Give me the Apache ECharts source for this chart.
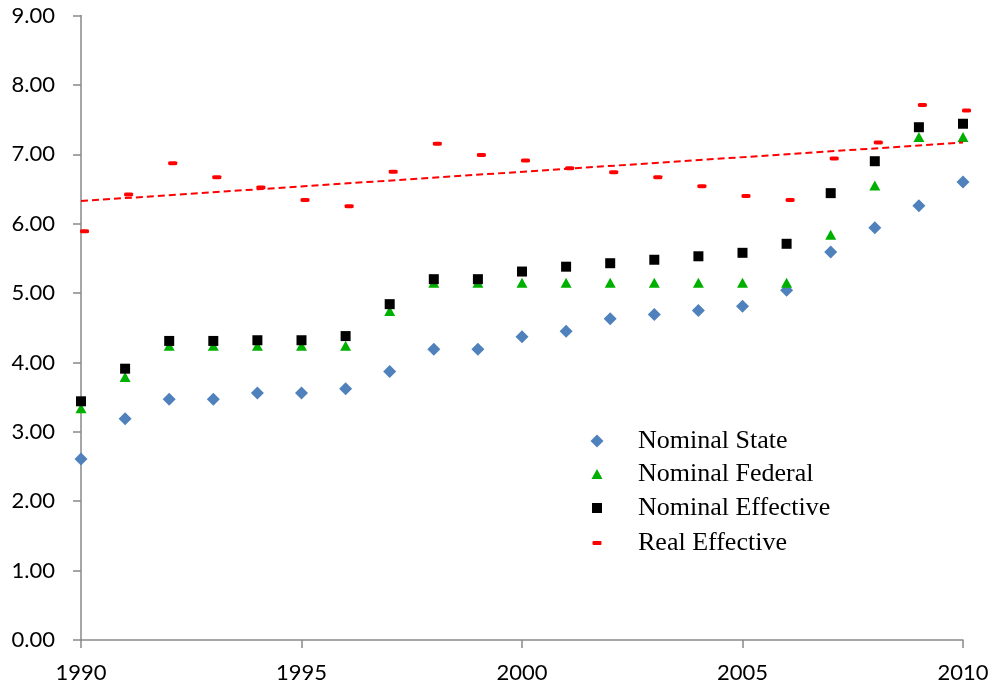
<!DOCTYPE html>
<html>
<head>
<meta charset="utf-8">
<script src="https://cdn.jsdelivr.net/npm/echarts@6/dist/echarts.min.js"></script>
<style>
html,body{margin:0;padding:0;background:#fff;}
#chart{width:995px;height:691px;}
</style>
</head>
<body>
<div id="chart"></div>
<script>
const years = [1990,1991,1992,1993,1994,1995,1996,1997,1998,1999,2000,2001,2002,2003,2004,2005,2006,2007,2008,2009,2010];
const nominalState = [2.61,3.19,3.47,3.47,3.56,3.56,3.62,3.87,4.19,4.19,4.37,4.45,4.63,4.69,4.75,4.81,5.04,5.59,5.94,6.26,6.60];
const nominalFederal = [3.34,3.79,4.24,4.24,4.24,4.24,4.24,4.74,5.15,5.15,5.15,5.15,5.15,5.15,5.15,5.15,5.15,5.84,6.55,7.25,7.25];
const nominalEffective = [3.44,3.91,4.31,4.31,4.32,4.32,4.38,4.84,5.20,5.20,5.31,5.38,5.43,5.48,5.53,5.58,5.71,6.44,6.90,7.39,7.44];
const realEffective = [5.89,6.42,6.87,6.67,6.52,6.34,6.25,6.75,7.15,6.99,6.91,6.80,6.74,6.67,6.54,6.40,6.34,6.94,7.17,7.71,7.63];
const seriesNames = ['Nominal State','Nominal Federal','Nominal Effective','Real Effective'];

// linear trend of Real Effective (least squares)
const n = years.length;
const mx = years.reduce((a,b)=>a+b,0)/n;
const my = realEffective.reduce((a,b)=>a+b,0)/n;
let sxy=0, sxx=0;
for (let i=0;i<n;i++){ sxy += (years[i]-mx)*(realEffective[i]-my); sxx += (years[i]-mx)*(years[i]-mx); }
const slope = sxy/sxx;
const trend = [years[0], years[n-1]].map(x => [x, my + slope*(x-mx)]);

const pair = arr => years.map((y,i)=>[y, arr[i]]);

const legendRows = [
  {name: seriesNames[0], w: 13, h: 13, cy: 441},
  {name: seriesNames[1], w: 11, h: 10, cy: 474},
  {name: seriesNames[2], w: 10, h: 10, cy: 508},
  {name: seriesNames[3], w: 9, h: 4, cy: 543}
];
const legendCx = 597, textLeft = 638, textLH = 30;

const chart = echarts.init(document.getElementById('chart'), null, {renderer:'canvas'});
chart.setOption({
  animation: false,
  backgroundColor: '#ffffff',
  grid: {left: 81, right: 32, top: 15.5, bottom: 51, containLabel: false},
  xAxis: {
    type: 'value', min: 1990, max: 2010, interval: 5,
    axisLine: {show: true, lineStyle: {color: '#898989', width: 1.5}},
    axisTick: {show: true, length: 8, lineStyle: {color: '#898989', width: 1.5}},
    axisLabel: {color: '#000', fontFamily: 'Lato', fontSize: 22, margin: 22, formatter: v => String(v)},
    splitLine: {show: false}
  },
  yAxis: {
    type: 'value', min: 0, max: 9, interval: 1,
    axisLine: {show: true, lineStyle: {color: '#898989', width: 1.5}},
    axisTick: {show: true, length: 8, lineStyle: {color: '#898989', width: 1.5}},
    axisLabel: {color: '#000', fontFamily: 'Lato', fontSize: 22, margin: 26, formatter: v => v.toFixed(2)},
    splitLine: {show: false}
  },
  legend: legendRows.map(r => ({
    data: [r.name],
    orient: 'vertical',
    left: legendCx - r.w/2,
    top: r.cy - textLH/2,
    padding: 0,
    itemWidth: r.w,
    itemHeight: r.h,
    selectedMode: false,
    textStyle: {
      fontFamily: 'Liberation Serif', fontSize: 26, color: '#000', lineHeight: textLH,
      padding: [0,0,0, textLeft - (legendCx - r.w/2) - r.w - 5]
    }
  })),
  series: [
    {name: seriesNames[0], type: 'scatter', data: pair(nominalState), symbol: 'diamond', symbolSize: 13,
     itemStyle: {color: '#4f81bd', opacity: 1}},
    {name: seriesNames[1], type: 'scatter', data: pair(nominalFederal), symbol: 'triangle', symbolSize: [11,10],
     itemStyle: {color: '#00b000', opacity: 1}},
    {name: seriesNames[2], type: 'scatter', data: pair(nominalEffective), symbol: 'rect', symbolSize: 10,
     itemStyle: {color: '#000000', opacity: 1}},
    {name: 'Trend', type: 'line', data: trend, symbol: 'none', silent: true,
     lineStyle: {color: '#ff0000', width: 2, type: [7,4]}},
    {name: seriesNames[3], type: 'scatter', data: pair(realEffective), symbol: 'roundRect', symbolSize: [9,4],
     symbolOffset: [3.5, 0], itemStyle: {color: '#ff0000', opacity: 1}}
  ]
});
</script>
</body>
</html>
